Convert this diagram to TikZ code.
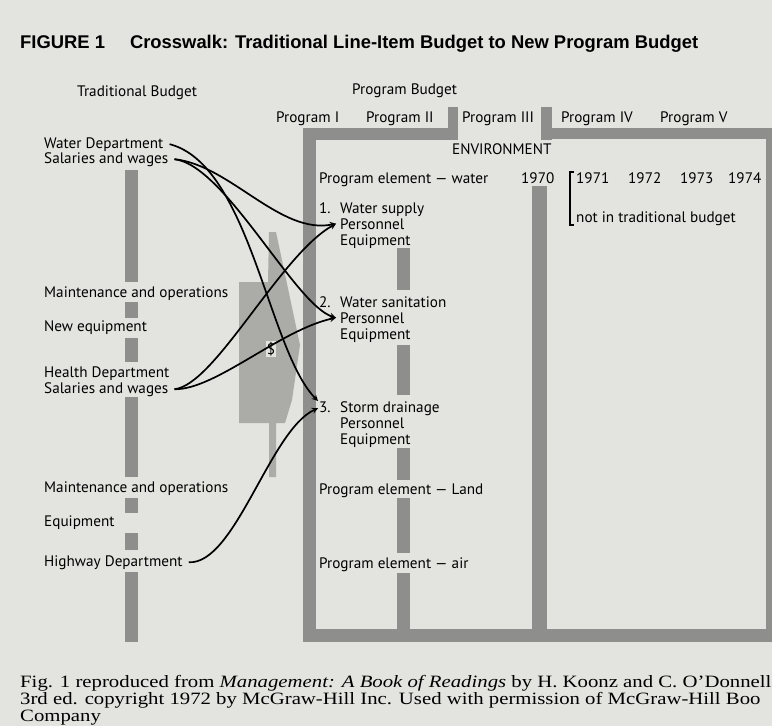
\documentclass[tikz,border=0pt]{standalone}
\usepackage{fontspec}
\setmainfont{Liberation Serif}
\setsansfont{PT Sans}
\newfontfamily\headfont{Liberation Sans}

\definecolor{paper}{HTML}{E3E3E0}
\definecolor{hatchgray}{HTML}{8E8E8C}
\definecolor{blockgray}{HTML}{ABABA8}

\begin{document}
\begin{tikzpicture}[x=1pt,y=-1pt,
    txt/.style={anchor=base west,inner sep=0,font=\sffamily\fontsize{15.2}{16}\selectfont},
    dept/.style={txt,inner xsep=6pt},
    item/.style={txt,inner xsep=4pt},
    foot/.style={anchor=base west,inner sep=0,font=\rmfamily\fontsize{17.3}{17}\selectfont},
    hatchbar/.style={fill=hatchgray,draw=none},
    flow/.style={->,>=stealth,line width=1.7pt}]
  \fill[paper] (0,0) rectangle (772,726);
  \useasboundingbox (0,0) rectangle (772,726);

  % shaded frame of the program budget
  \fill[hatchbar] (303,128) rectangle (316,642);
  \fill[hatchbar] (303,128) rectangle (458,140);
  \fill[hatchbar] (448,107) rectangle (458,140);
  \fill[hatchbar] (541,107) rectangle (552,140);
  \fill[hatchbar] (541,128) rectangle (772,139);
  \fill[hatchbar] (766,128) rectangle (772,642);
  \fill[hatchbar] (532,186) rectangle (547,642);
  \fill[hatchbar] (303,629) rectangle (772,642);
  \foreach \a/\b in {248/290,345/395,448/480,498/553,573/642} {
    \fill[hatchbar] (397,\a) rectangle (410,\b);
  }
  % bars of the traditional budget
  \foreach \a/\b in {170/282,302/318,338/362,397/477,498/513,533/550,572/642} {
    \fill[hatchbar] (125,\a) rectangle (138,\b);
  }
  % dollar block
  \fill[blockgray] (239,282) -- (268,282) -- (269,232) -- (276,232) -- (300,345)
    -- (292,400) -- (285,423) -- (276,423) -- (276,477) -- (269,477) -- (269,423)
    -- (239,423) -- cycle;
  \node[txt,fill=paper,inner sep=1pt,anchor=center] (dollar) at (271,349) {\$};

  % title
  \node[anchor=base west,inner sep=0,font=\headfont\bfseries\fontsize{18.4}{20}\selectfont] (title) at (20,48)
    {FIGURE 1\hspace{25pt}Crosswalk: Traditional Line-Item Budget to New Program Budget};

  % headings
  \node[txt] (trad) at (77,96) {Traditional Budget};
  \node[txt] (prog) at (352,94) {Program Budget};
  \foreach \p/\x in {I/276,II/366,III/462,IV/561,V/660} {
    \node[txt] (prog\p) at (\x,122) {Program \p};
  }

  % traditional budget
  \node[dept] (wdept) at (38,148) {Water Department};
  \node[dept] (wsal) at (38,163) {Salaries and wages};
  \node[dept] (wmaint) at (38,297) {Maintenance and operations};
  \node[dept] (wequip) at (38,331) {New equipment};
  \node[dept] (hdept) at (38,377) {Health Department};
  \node[dept] (hsal) at (38,393) {Salaries and wages};
  \node[dept] (hmaint) at (38,492) {Maintenance and operations};
  \node[dept] (hequip) at (38,526) {Equipment};
  \node[dept] (hwy) at (38,566) {Highway Department};

  % program budget
  \node[txt] (env) at (452,154) {ENVIRONMENT};
  \node[txt] (elwater) at (319,183) {Program element --- water};
  \node[txt] (y1970) at (521,183) {1970};
  \foreach \yr/\x in {1971/576,1972/628,1973/680,1974/728} {
    \node[txt] (y\yr) at (\x,183) {\yr};
  }
  \node[txt] (notin) at (576,222) {not in traditional budget};
  \draw[line width=1.1pt] (574,172) -- (570,172) -- (570,225) -- (574,225);

  \node[txt] (supply) at (319,213) {\makebox[21pt][l]{1.}Water supply};
  \node[item] (pers1) at (336,229) {Personnel};
  \node[txt] (equip1) at (340,245) {Equipment};
  \node[txt] (sanit) at (319,307) {\makebox[21pt][l]{2.}Water sanitation};
  \node[item] (pers2) at (336,323) {Personnel};
  \node[txt] (equip2) at (340,339) {Equipment};
  \node[txt,inner xsep=1pt] (storm) at (318,412) {\makebox[21pt][l]{3.}Storm drainage};
  \node[txt] (pers3) at (340,428) {Personnel};
  \node[txt] (equip3) at (340,444) {Equipment};
  \node[txt] (elland) at (319,494) {Program element --- Land};
  \node[txt] (elair) at (319,568) {Program element --- air};

  % crosswalk
  \draw[flow] (wdept.east) .. controls (250,165) and (268,350) .. (storm.north west);
  \draw[flow] (wsal.east) .. controls (230,165) and (280,235) .. (pers1.west);
  \draw[flow] (wsal.east) .. controls (225,165) and (295,305) .. (pers2.west);
  \draw[flow] (hsal.east) .. controls (215,385) and (280,255) .. (pers1.west);
  \draw[flow] (hsal.east) .. controls (215,390) and (280,330) .. (pers2.west);
  \draw[flow] (hwy.east) .. controls (235,565) and (270,430) .. (storm.west);

  % source
  \node[foot] (foot1) at (20,687)
    {\scalebox{1.2}[1]{Fig. 1 reproduced from \emph{Management: A Book of Readings} by H. Koonz and C. O'Donnell}};
  \node[foot] (foot2) at (20,704)
    {\scalebox{1.2}[1]{3rd ed. copyright 1972 by McGraw-Hill Inc. Used with permission of McGraw-Hill Boo}};
  \node[foot] (foot3) at (20,721) {\scalebox{1.2}[1]{Company}};
\end{tikzpicture}
\end{document}
